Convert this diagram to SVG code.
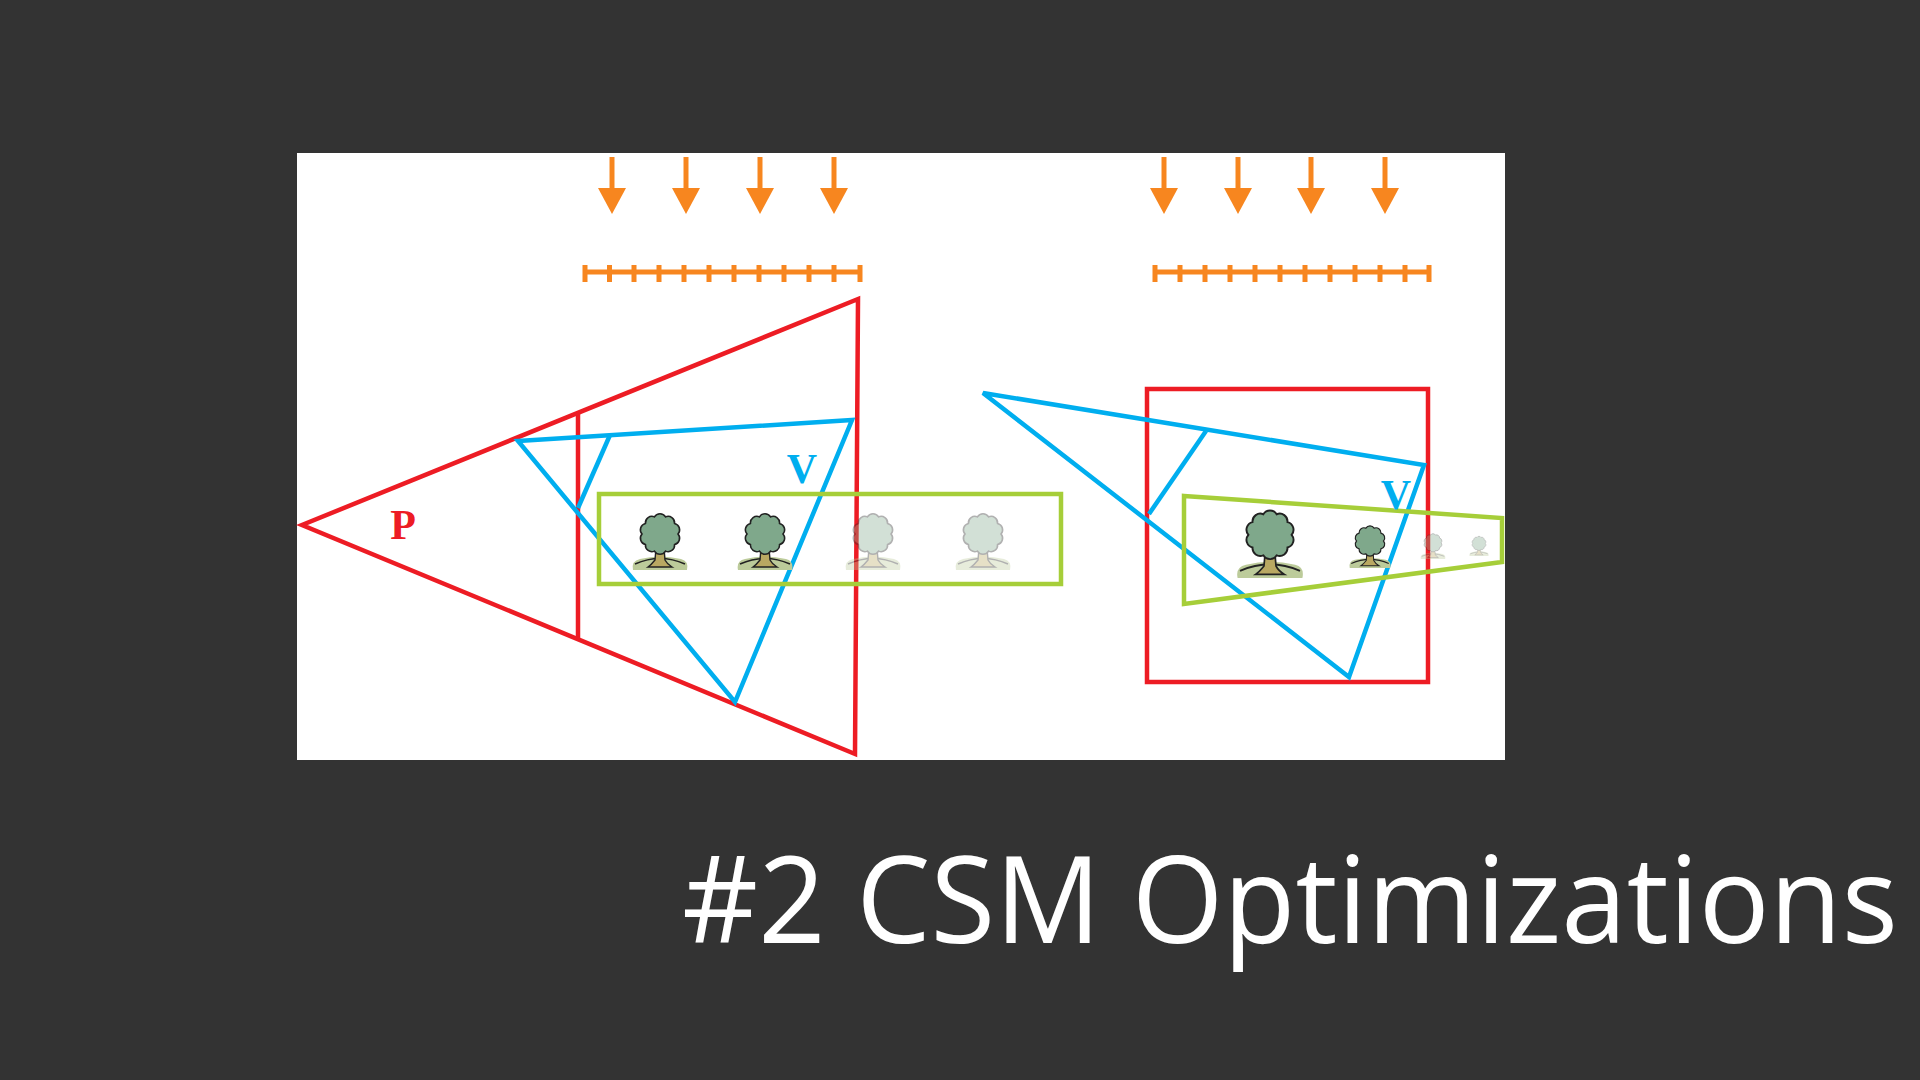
<svg xmlns="http://www.w3.org/2000/svg" width="1920" height="1080" viewBox="0 0 1920 1080">
<style>
.r{fill:none;stroke:#ed1c24;stroke-width:4.5;stroke-linejoin:miter}
.b{fill:none;stroke:#00aeef;stroke-width:4.5}
.g{fill:none;stroke:#a6ce39;stroke-width:4.5}
.o{stroke:#f7861f;stroke-width:5;fill:none}
.oa{fill:#f7861f}
.lbl{font-family:"Liberation Serif",serif;font-weight:bold;font-size:42px}
</style>
<defs>
<g id="tree">
<path d="M-27,0 Q-29,-9 -20,-11 Q0,-16 21,-11 Q29,-9 27,0 Z" fill="#bccb9a"/>
<path d="M-25,-6 Q0,-17 25,-6" fill="none" stroke="#222" stroke-width="1.6"/>
<path d="M-4,-22 L-5,-10 Q-9,-5 -12,-3 L12,-3 Q7,-6 5,-10 L4,-22 Z" fill="#b9a862" stroke="#222" stroke-width="1.4"/>
<path d="M18,-36 A6.5,6.5 0 0 1 14.56,-25.42 A6.5,6.5 0 0 1 5.56,-18.88 A6.5,6.5 0 0 1 -5.56,-18.88 A6.5,6.5 0 0 1 -14.56,-25.42 A6.5,6.5 0 0 1 -18,-36 A6.5,6.5 0 0 1 -14.56,-46.58 A6.5,6.5 0 0 1 -5.56,-53.12 A6.5,6.5 0 0 1 5.56,-53.12 A6.5,6.5 0 0 1 14.56,-46.58 A6.5,6.5 0 0 1 18,-36 Z" fill="#7fa88b" stroke="#222" stroke-width="1.6"/>
</g>
<g id="arrow">
<line x1="0" y1="157" x2="0" y2="190" class="o" stroke-width="6"/>
<path d="M-14,188 L14,188 L0,214 Z" class="oa"/>
</g>
</defs>
<rect width="1920" height="1080" fill="#333333"/>
<rect x="297" y="153" width="1208" height="607" fill="#ffffff"/>
<g id="left-lights">
<use href="#arrow" x="612"/><use href="#arrow" x="686"/><use href="#arrow" x="760"/><use href="#arrow" x="834"/>
<path class="o" d="M585,272 H860 M585,265 V282 M609.5,265 V282 M634,265 V282 M659,265 V282 M684,265 V282 M709,265 V282 M734,265 V282 M759,265 V282 M784,265 V282 M809,265 V282 M834,265 V282 M860,265 V282"/>
</g>
<g id="right-lights">
<use href="#arrow" x="1164"/><use href="#arrow" x="1238"/><use href="#arrow" x="1311"/><use href="#arrow" x="1385"/>
<path class="o" d="M1155,272 H1429 M1155,265 V282 M1180,265 V282 M1205,265 V282 M1230,265 V282 M1255,265 V282 M1280,265 V282 M1305,265 V282 M1330,265 V282 M1355,265 V282 M1380,265 V282 M1405,265 V282 M1429,265 V282"/>
</g>
<g id="connectors">
<path class="r" d="M858,299 L302,525 L855,754 Z"/>
<line class="r" x1="578" y1="414" x2="578" y2="638"/>
<path class="b" d="M518,441 L852,420 L735,702 Z"/>
<line class="b" x1="610" y1="435" x2="578" y2="508"/>
<rect class="g" x="599" y="494" width="462" height="90"/>
<rect class="r" x="1147" y="389" width="281" height="293"/>
<path class="b" d="M983,393 L1424,465 L1349,677 Z"/>
<line class="b" x1="1206" y1="431" x2="1149" y2="514"/>
<path class="g" d="M1184,496 L1502,518 L1502,562 L1184,604 Z"/>
</g>
<g id="left-trees">
<use href="#tree" transform="translate(660,570)"/>
<use href="#tree" transform="translate(765,570)"/>
<use href="#tree" transform="translate(873,570)" opacity="0.35"/>
<use href="#tree" transform="translate(983,570)" opacity="0.35"/>
</g>
<g id="right-trees">
<use href="#tree" transform="translate(1270,578) scale(1.2)"/>
<use href="#tree" transform="translate(1370,568) scale(0.75)"/>
<use href="#tree" transform="translate(1433,559) scale(0.45)" opacity="0.35"/>
<use href="#tree" transform="translate(1479,556) scale(0.35)" opacity="0.35"/>
</g>
<g id="labels">
<text class="lbl" x="403" y="539" fill="#ed1c24" text-anchor="middle">P</text>
<text class="lbl" x="802" y="483" fill="#00aeef" text-anchor="middle">V</text>
<text class="lbl" x="1396" y="509" fill="#00aeef" text-anchor="middle">V</text>
</g>
<text x="682" y="943" font-family="'Open Sans',sans-serif" font-size="120" fill="#ffffff" textLength="1216" lengthAdjust="spacingAndGlyphs">#2 CSM Optimizations</text>
</svg>
